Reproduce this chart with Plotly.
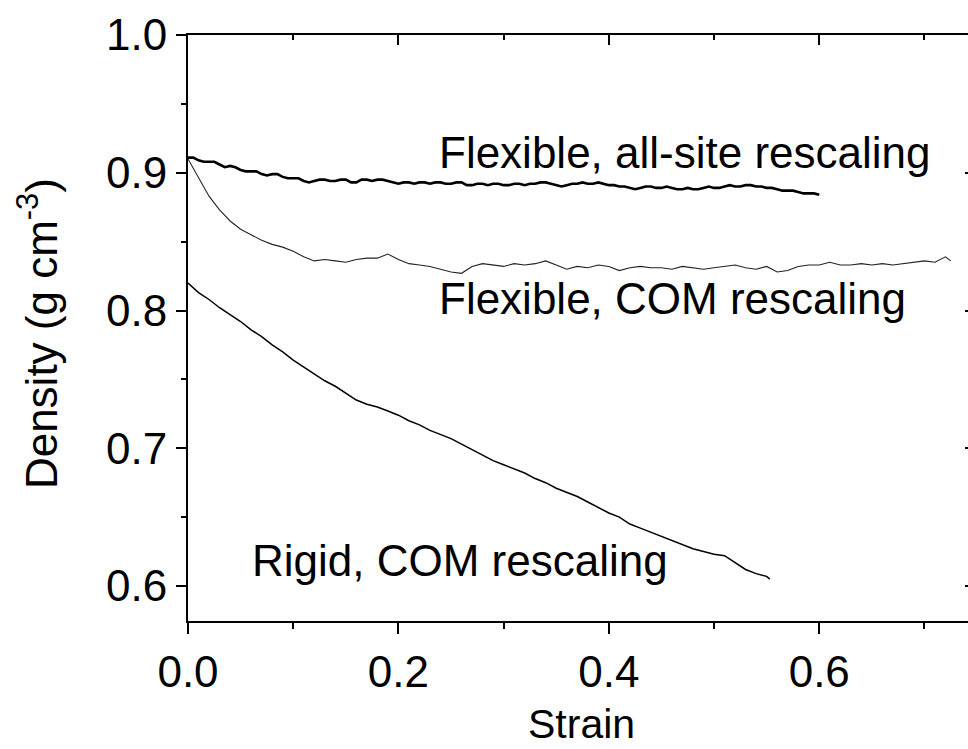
import plotly.graph_objects as go

# ---------------- data ----------------
strain_allsite = [0.00, 0.01, 0.02, 0.03, 0.04, 0.05, 0.06, 0.07, 0.08, 0.09,
                  0.10, 0.11, 0.12, 0.13, 0.14, 0.15, 0.16, 0.17, 0.18, 0.19,
                  0.20, 0.21, 0.22, 0.23, 0.24, 0.25, 0.26, 0.27, 0.28, 0.29,
                  0.30, 0.31, 0.32, 0.33, 0.34, 0.35, 0.36, 0.37, 0.38, 0.39,
                  0.40, 0.41, 0.42, 0.43, 0.44, 0.45, 0.46, 0.47, 0.48, 0.49,
                  0.50, 0.51, 0.52, 0.53, 0.54, 0.55, 0.56, 0.57, 0.58, 0.59, 0.60]
density_allsite = [0.911, 0.909, 0.908, 0.906, 0.905, 0.902, 0.901, 0.899, 0.899, 0.897,
                   0.896, 0.894, 0.894, 0.895, 0.894, 0.895, 0.893, 0.895, 0.895, 0.894,
                   0.892, 0.893, 0.893, 0.892, 0.893, 0.892, 0.893, 0.891, 0.892, 0.892,
                   0.891, 0.892, 0.891, 0.892, 0.893, 0.891, 0.891, 0.892, 0.892, 0.893,
                   0.891, 0.890, 0.889, 0.889, 0.890, 0.889, 0.889, 0.888, 0.888, 0.889,
                   0.889, 0.890, 0.890, 0.891, 0.890, 0.889, 0.888, 0.887, 0.886, 0.885, 0.884]
# in-between readings of the jittery all-site curve
strain_allsite_mid = [0.005, 0.015, 0.025, 0.035, 0.045, 0.055, 0.065, 0.075, 0.085, 0.095,
                      0.105, 0.115, 0.125, 0.135, 0.145, 0.155, 0.165, 0.175, 0.185, 0.195,
                      0.205, 0.215, 0.225, 0.235, 0.245, 0.255, 0.265, 0.275, 0.285, 0.295,
                      0.305, 0.315, 0.325, 0.335, 0.345, 0.355, 0.365, 0.375, 0.385, 0.395,
                      0.405, 0.415, 0.425, 0.435, 0.445, 0.455, 0.465, 0.475, 0.485, 0.495,
                      0.505, 0.515, 0.525, 0.535, 0.545, 0.555, 0.565, 0.575, 0.585, 0.595]
density_allsite_mid = [0.911, 0.908, 0.908, 0.904, 0.904, 0.901, 0.901, 0.898, 0.899, 0.896,
                       0.896, 0.893, 0.895, 0.894, 0.895, 0.893, 0.895, 0.894, 0.895, 0.893,
                       0.893, 0.892, 0.893, 0.893, 0.892, 0.893, 0.891, 0.892, 0.891, 0.892,
                       0.891, 0.892, 0.892, 0.893, 0.892, 0.890, 0.892, 0.893, 0.892, 0.892,
                       0.891, 0.890, 0.888, 0.890, 0.889, 0.890, 0.888, 0.889, 0.888, 0.890,
                       0.889, 0.891, 0.890, 0.891, 0.890, 0.889, 0.887, 0.887, 0.885, 0.885]

strain_flexcom = [0.000, 0.005, 0.010, 0.015, 0.020, 0.025, 0.030, 0.035, 0.040,
                  0.05, 0.06, 0.07, 0.08, 0.09, 0.10, 0.11, 0.12, 0.13, 0.14, 0.15,
                  0.16, 0.17, 0.18, 0.19, 0.20, 0.21, 0.22, 0.23, 0.24, 0.25,
                  0.26, 0.27, 0.28, 0.29, 0.30, 0.31, 0.32, 0.33, 0.34, 0.35,
                  0.36, 0.37, 0.38, 0.39, 0.40, 0.41, 0.42, 0.43, 0.44, 0.45,
                  0.46, 0.47, 0.48, 0.49, 0.50, 0.51, 0.52, 0.53, 0.54, 0.55,
                  0.56, 0.57, 0.58, 0.59, 0.60, 0.61, 0.62, 0.63, 0.64, 0.65,
                  0.66, 0.67, 0.68, 0.69, 0.70, 0.71, 0.72, 0.725]
density_flexcom = [0.910, 0.903, 0.896, 0.889, 0.883, 0.878, 0.873, 0.869, 0.865,
                   0.859, 0.855, 0.851, 0.848, 0.846, 0.843, 0.839, 0.836, 0.837, 0.836, 0.835,
                   0.837, 0.838, 0.838, 0.841, 0.837, 0.834, 0.833, 0.832, 0.830, 0.828,
                   0.827, 0.832, 0.834, 0.833, 0.832, 0.834, 0.833, 0.834, 0.836, 0.833,
                   0.830, 0.832, 0.831, 0.833, 0.832, 0.829, 0.831, 0.832, 0.831, 0.831,
                   0.830, 0.832, 0.831, 0.830, 0.831, 0.832, 0.833, 0.831, 0.830, 0.832,
                   0.828, 0.829, 0.832, 0.833, 0.833, 0.835, 0.833, 0.833, 0.834, 0.833,
                   0.834, 0.833, 0.834, 0.835, 0.836, 0.835, 0.839, 0.836]

strain_rigid = [0.00, 0.01, 0.02, 0.03, 0.04, 0.05, 0.06, 0.07, 0.08, 0.09,
                0.10, 0.11, 0.12, 0.13, 0.14, 0.15, 0.16, 0.17, 0.18, 0.19,
                0.20, 0.21, 0.22, 0.23, 0.24, 0.25, 0.26, 0.27, 0.28, 0.29,
                0.30, 0.31, 0.32, 0.33, 0.34, 0.35, 0.36, 0.37, 0.38, 0.39,
                0.40, 0.41, 0.42, 0.43, 0.44, 0.45, 0.46, 0.47, 0.48, 0.49,
                0.50, 0.51, 0.52, 0.53, 0.54, 0.55, 0.553]
density_rigid = [0.820, 0.813, 0.808, 0.802, 0.797, 0.792, 0.786, 0.781, 0.775, 0.770,
                 0.764, 0.759, 0.754, 0.749, 0.745, 0.740, 0.735, 0.732, 0.730, 0.727,
                 0.724, 0.720, 0.717, 0.713, 0.710, 0.707, 0.703, 0.699, 0.695, 0.691,
                 0.688, 0.685, 0.682, 0.678, 0.675, 0.671, 0.668, 0.665, 0.661, 0.657,
                 0.653, 0.650, 0.645, 0.642, 0.639, 0.636, 0.633, 0.630, 0.627, 0.625,
                 0.623, 0.622, 0.617, 0.612, 0.609, 0.607, 0.605]

labels = ["Flexible, all-site rescaling", "Flexible, COM rescaling", "Rigid, COM rescaling"]
label_x = [0.2367, 0.2367, 0.0589]
label_y = [0.9145, 0.8087, 0.6188]

x_title = "Strain"
y_title = "Density (g cm<sup>-3</sup>)"

x_ticks = [0.0, 0.2, 0.4, 0.6]
y_ticks = [0.6, 0.7, 0.8, 0.9, 1.0]

X_RANGE = [0.0, 0.7414]
Y_RANGE = [0.5746, 1.0]
FONT = "Liberation Sans, Arial, sans-serif"

allsite = sorted(zip(strain_allsite + strain_allsite_mid, density_allsite + density_allsite_mid))

fig = go.Figure()
fig.add_trace(go.Scatter(x=[p[0] for p in allsite], y=[p[1] for p in allsite], mode="lines",
                         line=dict(color="black", width=2.6), showlegend=False))
fig.add_trace(go.Scatter(x=strain_flexcom, y=density_flexcom, mode="lines",
                         line=dict(color="#222222", width=1.1), showlegend=False))
fig.add_trace(go.Scatter(x=strain_rigid, y=density_rigid, mode="lines",
                         line=dict(color="black", width=1.5), showlegend=False))

for t, lx, ly in zip(labels, label_x, label_y):
    fig.add_annotation(x=lx, y=ly, text=t, showarrow=False, xanchor="left",
                       yanchor="middle", font=dict(family=FONT, size=44, color="black"))

# axis titles placed as paper annotations for exact positioning
fig.add_annotation(xref="paper", yref="paper", x=0.505, y=-0.2184, text=x_title,
                   showarrow=False, xanchor="center", yanchor="bottom",
                   font=dict(family=FONT, size=41, color="black"))
fig.add_annotation(xref="paper", yref="paper", x=-0.192, y=0.49, text=y_title,
                   showarrow=False, xanchor="center", yanchor="middle", textangle=-90,
                   font=dict(family=FONT, size=44, color="black"))

fig.update_layout(
    width=968, height=749,
    margin=dict(l=188, r=0, t=35, b=128, autoexpand=False),
    paper_bgcolor="white", plot_bgcolor="white",
    font=dict(family=FONT, color="black"),
    xaxis=dict(range=X_RANGE, tickvals=x_ticks, ticktext=[f"{v:.1f}" for v in x_ticks],
               automargin=False,
               ticks="outside", ticklen=11, tickwidth=2, tickcolor="black",
               showline=True, linewidth=2, linecolor="black", showgrid=False, zeroline=False,
               tickfont=dict(size=44),
               minor=dict(dtick=0.1, tick0=0, ticks="outside", ticklen=6, tickwidth=2,
                          tickcolor="black", showgrid=False)),
    xaxis2=dict(range=X_RANGE, overlaying="x", side="top", tickvals=x_ticks,
                automargin=False,
                showticklabels=False, ticks="inside", ticklen=10, tickwidth=2, tickcolor="black",
                showline=True, linewidth=2, linecolor="black", showgrid=False, zeroline=False,
                minor=dict(dtick=0.1, tick0=0, ticks="inside", ticklen=5, tickwidth=2,
                           tickcolor="black", showgrid=False)),
    yaxis=dict(range=Y_RANGE, tickvals=y_ticks, ticktext=[f"{v:.1f}" for v in y_ticks],
               automargin=False,
               ticks="outside", ticklen=10, tickwidth=2, tickcolor="black",
               showline=True, linewidth=2, linecolor="black", showgrid=False, zeroline=False,
               tickfont=dict(size=44),
               minor=dict(dtick=0.05, tick0=0, ticks="outside", ticklen=5, tickwidth=2,
                          tickcolor="black", showgrid=False)),
    yaxis2=dict(range=Y_RANGE, overlaying="y", side="right", tickvals=y_ticks,
                automargin=False,
                showticklabels=False, ticks="inside", ticklen=3, tickwidth=2, tickcolor="black",
                showline=False, showgrid=False, zeroline=False),
)
# invisible anchor so the overlay axes are drawn
fig.add_trace(go.Scatter(x=[None], y=[None], xaxis="x2", yaxis="y2", showlegend=False,
                         hoverinfo="skip"))

fig.write_html("out.html")
